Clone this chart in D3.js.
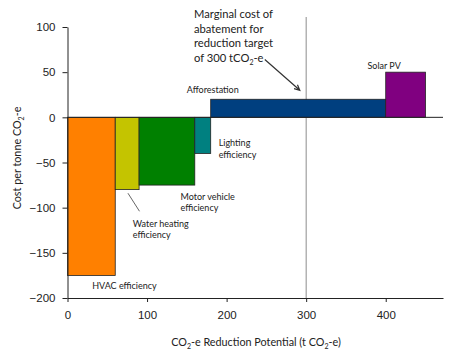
<!DOCTYPE html>
<html>
<head>
<meta charset="utf-8">
<script src="https://cdn.jsdelivr.net/npm/d3@7"></script>
<style>
  body { margin: 0; background: #fff; }
  svg { font-family: Lato, "Open Sans", sans-serif; }
</style>
</head>
<body>
<script>
// Abatement options, in order along the curve
const measures = ["HVAC efficiency", "Water heating efficiency", "Motor vehicle efficiency",
                  "Lighting efficiency", "Afforestation", "Solar PV"];
const potential = [60, 30, 70, 20, 220, 50];      // t CO2-e
const cost = [-175, -80, -75, -40, 20, 50];       // per tonne CO2-e
const colours = ["#ff8000", "#c4c400", "#008000", "#008080", "#003f7f", "#800080"];
const xTicks = [0, 100, 200, 300, 400];
const yTicks = [100, 50, 0, -50, -100, -150, -200];
const target = 300;

const width = 450, height = 351;
const margin = {left: 67.5, right: 7, top: 27, bottom: 53};

const svg = d3.select("body").append("svg")
    .attr("width", width)
    .attr("height", height);

const x = d3.scaleLinear().domain([0, 472]).range([margin.left, width - margin.right]);
const y = d3.scaleLinear().domain([-200, 100]).range([height - margin.bottom, margin.top]);

// cumulative start of each block
let starts = [], acc = 0;
potential.forEach(p => { starts.push(acc); acc += p; });

const blocks = measures.map((m, i) => ({name: m, x0: starts[i], x1: starts[i] + potential[i], c: cost[i], col: colours[i]}));

// Target line
svg.append("line")
    .attr("x1", x(target)).attr("x2", x(target))
    .attr("y1", 17).attr("y2", y(-200))
    .attr("stroke", "#8c8c8c").attr("stroke-width", 1);

// Bars
svg.selectAll("rect.bar").data(blocks).enter().append("rect")
    .attr("class", "bar")
    .attr("x", d => x(d.x0))
    .attr("width", d => x(d.x1) - x(d.x0))
    .attr("y", d => y(Math.max(0, d.c)))
    .attr("height", d => Math.abs(y(d.c) - y(0)))
    .attr("fill", d => d.col)
    .attr("stroke", "#222")
    .attr("stroke-width", 0.8);

// Zero line
svg.append("line")
    .attr("x1", x(0)).attr("x2", x(472))
    .attr("y1", y(0)).attr("y2", y(0))
    .attr("stroke", "#222").attr("stroke-width", 1);

// Axes
const yAxis = svg.append("g")
    .attr("transform", `translate(${x(0)},0)`)
    .call(d3.axisLeft(y).tickValues(yTicks).tickSize(5).tickSizeOuter(0).tickPadding(7));
const xAxis = svg.append("g")
    .attr("transform", `translate(0,${y(-200)})`)
    .call(d3.axisBottom(x).tickValues(xTicks).tickSize(4).tickSizeOuter(0).tickPadding(9));
[xAxis, yAxis].forEach(a => {
    a.select(".domain").attr("stroke", "#222");
    a.selectAll(".tick line").attr("stroke", "#222");
    a.selectAll(".tick text").attr("fill", "#222").style("font-size", "11.5px");
});

// Axis titles
svg.append("text")
    .attr("x", 256).attr("y", 346)
    .attr("text-anchor", "middle")
    .style("font-size", "10.8px").attr("fill", "#222")
    .html('CO<tspan font-size="7" dy="3">2</tspan><tspan dy="-3">-e Reduction Potential (t CO</tspan><tspan font-size="7" dy="3">2</tspan><tspan dy="-3">-e)</tspan>');

svg.append("text")
    .attr("transform", `translate(21,158) rotate(-90)`)
    .attr("text-anchor", "middle")
    .style("font-size", "10.8px").attr("fill", "#222")
    .html('Cost per tonne CO<tspan font-size="7" dy="3">2</tspan><tspan dy="-3">-e</tspan>');

// Block labels: [lines, data x, data y]
const labels = [
    [["HVAC efficiency"], 31, -190],
    [["Water heating", "efficiency"], 82, -121],
    [["Motor vehicle", "efficiency"], 142, -91],
    [["Lighting", "efficiency"], 190, -32],
    [["Afforestation"], 150, 27],
    [["Solar PV"], 377, 54]
];
labels.forEach(([lines, lx, ly]) => {
    const t = svg.append("text")
        .attr("x", x(lx)).attr("y", y(ly))
        .style("font-size", "9px").attr("fill", "#222");
    lines.forEach((l, i) => t.append("tspan").attr("x", x(lx)).attr("dy", i ? 11.5 : 0).text(l));
});

// Water heating leader line
svg.append("line")
    .attr("x1", x(76)).attr("y1", y(-84))
    .attr("x2", x(90.5)).attr("y2", y(-104))
    .attr("stroke", "#555").attr("stroke-width", 0.9);

// Target annotation
const ann = svg.append("text").attr("x", x(159)).attr("y", 18)
    .style("font-size", "11.2px").attr("fill", "#222");
["Marginal cost of", "abatement for", "reduction target"].forEach((l, i) =>
    ann.append("tspan").attr("x", x(159)).attr("dy", i ? 14.7 : 0).text(l));
ann.append("tspan").attr("x", x(159)).attr("dy", 14.7).text("of 300 tCO");
ann.append("tspan").attr("font-size", "7").attr("dy", 3).text("2");
ann.append("tspan").attr("dy", -3).text("-e");

// Arrow to the target line
const ax0 = x(248), ay0 = y(64), ax1 = x(292), ay1 = y(30);
const ang = Math.atan2(ay1 - ay0, ax1 - ax0);
const head = 6, spread = 0.45;
svg.append("path")
    .attr("d", `M${ax0},${ay0}L${ax1},${ay1}` +
        `M${ax1 - head * Math.cos(ang - spread)},${ay1 - head * Math.sin(ang - spread)}` +
        `L${ax1},${ay1}` +
        `L${ax1 - head * Math.cos(ang + spread)},${ay1 - head * Math.sin(ang + spread)}`)
    .attr("fill", "none")
    .attr("stroke", "#333")
    .attr("stroke-width", 1.2);
</script>
</body>
</html>
